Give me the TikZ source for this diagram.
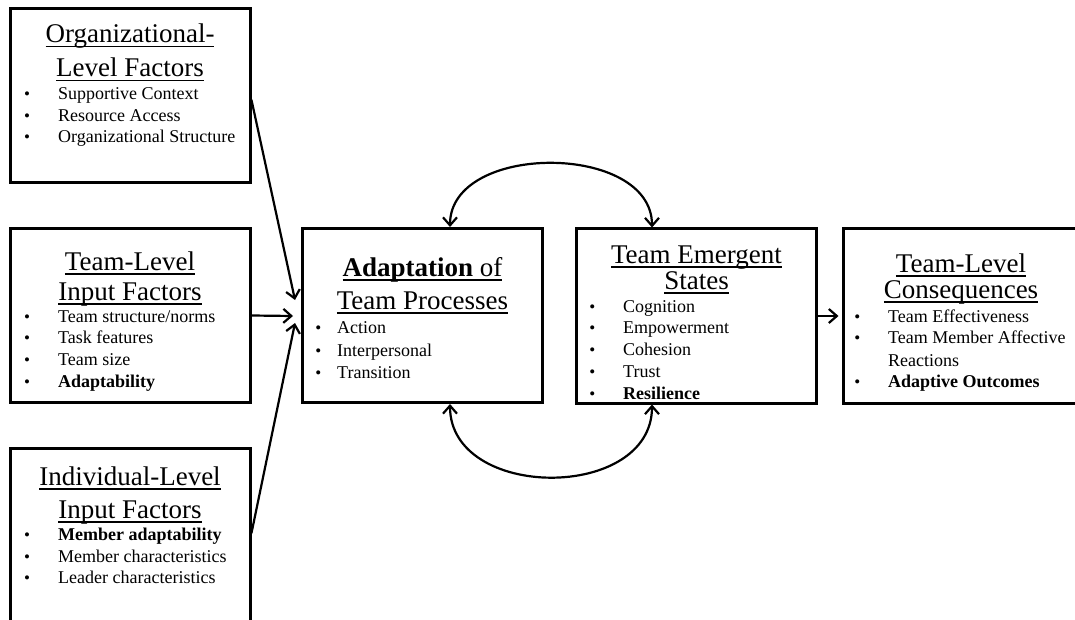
\documentclass[tikz,border=0pt]{standalone}
\usepackage{fontspec}
\setmainfont{Liberation Serif}
\usetikzlibrary{arrows.meta}
\newcommand\hl[1]{\setbox0\hbox{#1}\rlap{\vrule height -3pt depth 4.5pt width \wd0}\box0}
\newcommand\bul[1]{\llap{{\fontsize{17}{17}\selectfont\textbullet}\hspace{#1}}}

\begin{document}
\begin{tikzpicture}[line cap=round,line join=round,>={Straight Barb[length=8pt,width=14pt]},x=1pt,y=-1pt,
  factor/.style={draw,line width=3pt,line join=miter,minimum width=240pt,minimum height=174pt,inner sep=0pt},
  head/.style={anchor=base,inner sep=0pt,font=\fontsize{27}{30}\selectfont},
  point/.style={anchor=base west,inner sep=0pt,font=\fontsize{18}{22}\selectfont},
  link/.style={line width=2.2pt}]
\useasboundingbox[fill=white] (0,0) rectangle (1075,620);
\clip (0,0) rectangle (1075,620);
% boxes
\node[factor] (org) at (130,96) {};
\node[factor] (team) at (130,315.5) {};
\node[factor] (indiv) at (130,535) {};
\node[factor] (proc) at (422.5,315.5) {};
\node[factor] (emer) at (696.5,316) {};
\node[factor] (cons) at (963,316) {};
% organizational level
\node[head] (orgT1) at (130,43) {\hl{Organizational-}};
\node[head] (orgT2) at (130,77) {\hl{Level Factors}};
\foreach \y/\t [count=\i] in {100/Supportive Context,122/Resource Access,143/Organizational Structure}
  \node[point] (org\i) at (58,\y) {\bul{28pt}\t};
% team level
\node[head] (teamT1) at (130,270) {\hl{Team-Level}};
\node[head] (teamT2) at (130,300) {\hl{Input Factors}};
\foreach \y/\t [count=\i] in {322/{Team structure/norms},343/Task features,365/Team size,387/{\textbf{Adaptability}}}
  \node[point] (team\i) at (58,\y) {\bul{28pt}\t};
% individual level
\node[head] (indivT1) at (130,485) {\hl{Individual-Level}};
\node[head] (indivT2) at (130,518) {\hl{Input Factors}};
\foreach \y/\t [count=\i] in {540/{\textbf{Member adaptability}},562/Member characteristics,583/Leader characteristics}
  \node[point] (indiv\i) at (58,\y) {\bul{28pt}\t};
% processes
\node[head] (procT1) at (422.5,276) {\hl{\textbf{Adaptation} of}};
\node[head] (procT2) at (422.5,309) {\hl{Team Processes}};
\foreach \y/\t [count=\i] in {333/Action,356/Interpersonal,378/Transition}
  \node[point] (proc\i) at (337,\y) {\bul{16pt}\t};
% emergent states
\node[head] (emerT1) at (696.5,263) {\hl{Team Emergent}};
\node[head] (emerT2) at (696.5,289) {\hl{States}};
\foreach \y/\t [count=\i] in {312/Cognition,333/Empowerment,355/Cohesion,377/Trust,399/{\textbf{Resilience}}}
  \node[point] (emer\i) at (623,\y) {\bul{28pt}\t};
% consequences
\node[head] (consT1) at (961,272) {\hl{Team-Level}};
\node[head] (consT2) at (961,298) {\hl{Consequences}};
\foreach \y/\t [count=\i] in {322/Team Effectiveness,343/Team Member Affective,387/{\textbf{Adaptive Outcomes}}}
  \node[point] (cons\i) at (888,\y) {\bul{28pt}\t};
\node[point] (consR) at (888,366) {Reactions};
% arrows
\coordinate (inA) at (295,300);
\coordinate (inB) at (293,316);
\coordinate (inC) at (295,323);
\draw[link,->] ([yshift=-4pt]org.east) -- (inA);
\draw[link,->] (team.east) -- (inB);
\draw[link,->] ([yshift=2pt]indiv.east) -- (inC);
\draw[link,->,shorten >=3pt] (emer.east) -- (cons.west);
\draw[link,<->] ([xshift=27.5pt]proc.north) .. controls +(0,-85) and +(0,-85) .. ([xshift=-44.5pt]emer.north);
\draw[link,<->] ([xshift=27.5pt]proc.south) .. controls +(0,97) and +(0,97) .. ([xshift=-44.5pt]emer.south);
\end{tikzpicture}
\end{document}
